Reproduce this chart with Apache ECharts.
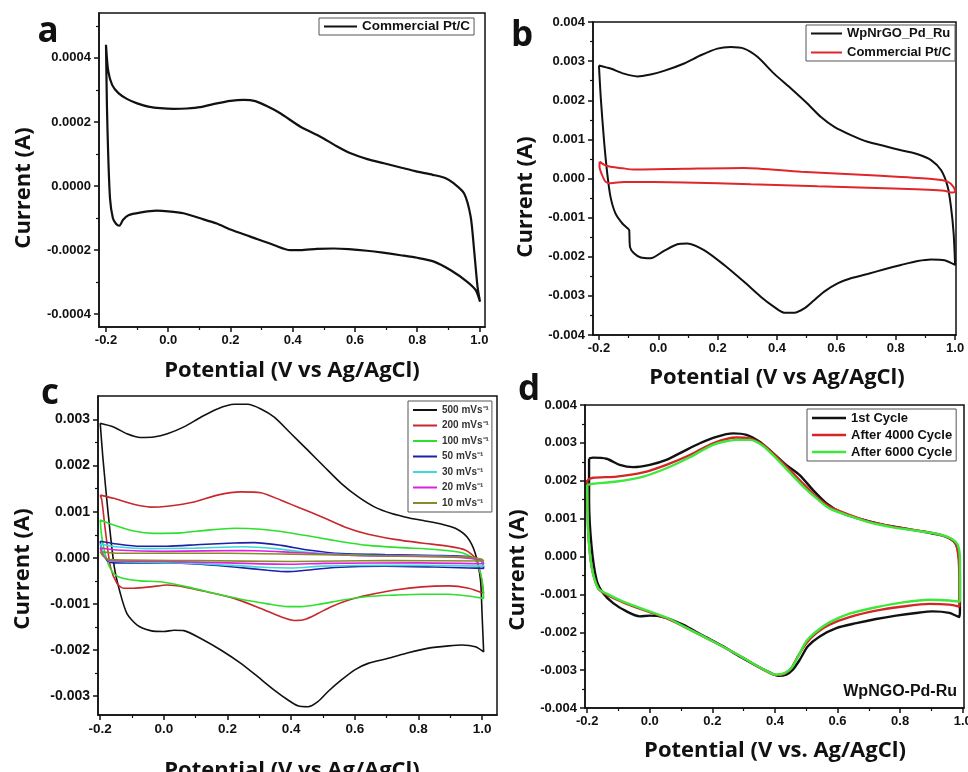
<!DOCTYPE html>
<html><head><meta charset="utf-8">
<script src="https://cdn.jsdelivr.net/npm/echarts@6/dist/echarts.min.js"></script>
<style>html,body{margin:0;padding:0;background:#fff}#c{width:968px;height:772px}</style>
</head><body><div id="c"></div>
<script>
// ---------------- tick labels ----------------
const xTicks = [-0.2, 0, 0.2, 0.4, 0.6, 0.8, 1.0];
const xMinorTicks = [-0.1, 0.1, 0.3, 0.5, 0.7, 0.9];
const aYTicks = [-0.0004, -0.0002, 0, 0.0002, 0.0004];
const aYMinorTicks = [-0.0003, -0.0001, 0.0001, 0.0003, 0.0005];
const bYTicks = [-0.004, -0.003, -0.002, -0.001, 0, 0.001, 0.002, 0.003, 0.004];
const bYMinorTicks = [-0.0035, -0.0025, -0.0015, -0.0005, 0.0005, 0.0015, 0.0025, 0.0035];
const cYTicks = [-0.003, -0.002, -0.001, 0, 0.001, 0.002, 0.003];
const cYMinorTicks = [-0.0025, -0.0015, -0.0005, 0.0005, 0.0015, 0.0025];
const dYTicks = [-0.004, -0.003, -0.002, -0.001, 0, 0.001, 0.002, 0.003, 0.004];
const dYMinorTicks = [-0.0035, -0.0025, -0.0015, -0.0005, 0.0005, 0.0015, 0.0025, 0.0035];

// ---------------- series names ----------------
const aNames = ['Commercial Pt/C'];
const bNames = ['WpNrGO_Pd_Ru', 'Commercial Pt/C'];
const cNames = ['500 mVs\u207B\u00B9', '200 mVs\u207B\u00B9', '100 mVs\u207B\u00B9', '50 mVs\u207B\u00B9', '30 mVs\u207B\u00B9', '20 mVs\u207B\u00B9', '10 mVs\u207B\u00B9'];
const dNames = ['1st Cycle', 'After 4000 Cycle', 'After 6000 Cycle'];

// ---------------- data: [potential V, current A] ----------------
const aPtC = [
[-0.2,0.000441],[-0.193,0.00036],[-0.18,0.000315],[-0.16,0.00029],[-0.133,0.000272],[-0.1,0.000258],[-0.06,0.000247],[-0.026,0.000243],[0.017,0.000241],[0.06,0.000242],[0.103,0.000246],[0.156,0.000258],[0.2,0.000266],[0.242,0.000269],[0.28,0.000265],[0.32,0.000248],[0.36,0.000227],[0.425,0.000185],[0.489,0.000154],[0.54,0.000125],[0.586,0.000102],[0.64,0.000084],[0.693,0.000071],[0.75,0.000057],[0.8,0.000045],[0.85,0.000035],[0.89,0.000025],[0.918,0.000008],[0.951,-0.000023],[0.972,-0.000096],[0.983,-0.0002],[0.994,-0.000315],[1.002,-0.000361],
[0.988,-0.000325],[0.961,-0.000299],[0.908,-0.000263],[0.854,-0.000236],[0.8,-0.000224],[0.747,-0.000216],[0.69,-0.000208],[0.639,-0.000202],[0.58,-0.000197],[0.532,-0.000195],[0.478,-0.000196],[0.425,-0.0002],[0.392,-0.0002],[0.339,-0.000184],[0.264,-0.000158],[0.2,-0.000136],[0.156,-0.000117],[0.1,-0.0001],[0.049,-0.000085],[0.0,-0.000079],[-0.037,-0.000077],[-0.091,-0.000083],[-0.128,-0.000091],[-0.145,-0.000105],[-0.157,-0.000124],[-0.168,-0.000118],[-0.178,-0.0001],[-0.187,-0.00004],[-0.193,0.0001],[-0.197,0.00025],[-0.2,0.000441]
];
const bWp = [
[-0.2,0.00289],[-0.161,0.00281],[-0.116,0.00268],[-0.071,0.00261],[-0.026,0.00266],[0.019,0.00275],[0.087,0.00294],[0.143,0.00315],[0.199,0.00332],[0.244,0.00336],[0.289,0.00332],[0.334,0.00311],[0.39,0.00268],[0.447,0.0023],[0.503,0.00191],[0.548,0.00157],[0.593,0.00132],[0.649,0.00111],[0.705,0.00094],[0.762,0.00083],[0.818,0.00072],[0.874,0.00062],[0.919,0.00047],[0.953,0.00021],[0.975,-0.00021],[0.986,-0.00072],[0.995,-0.0014],[1.0,-0.00221],
[0.964,-0.00209],[0.919,-0.00207],[0.874,-0.00211],[0.818,-0.00221],[0.762,-0.00232],[0.705,-0.00244],[0.649,-0.00255],[0.604,-0.00268],[0.559,-0.00289],[0.525,-0.00311],[0.492,-0.00332],[0.458,-0.00343],[0.424,-0.00343],[0.39,-0.00328],[0.345,-0.00302],[0.289,-0.00264],[0.222,-0.00221],[0.154,-0.00183],[0.098,-0.00166],[0.064,-0.00168],[0.019,-0.00185],[-0.026,-0.00204],[-0.059,-0.00202],[-0.082,-0.00191],[-0.095,-0.00176],[-0.098,-0.00132],[-0.102,-0.00128],[-0.121,-0.00115],[-0.144,-0.0009],[-0.161,-0.00047],[-0.172,0.00013],[-0.183,0.00098],[-0.194,0.00208],[-0.2,0.00289]
];
const bPtC = [
[-0.198,0.00043],[-0.18,0.00034],[-0.161,0.0003],[-0.12,0.00026],[-0.082,0.00023],[0.087,0.00025],[0.289,0.00027],[0.48,0.00017],[0.649,0.00011],[0.818,0.00004],[0.93,-0.00002],[0.975,-0.00008],[0.995,-0.00022],[1.0,-0.00034],[0.985,-0.00036],[0.964,-0.00031],[0.818,-0.00026],[0.537,-0.0002],[0.312,-0.00015],[0.087,-0.0001],[-0.116,-0.00009],[-0.161,-0.00012],[-0.178,-0.00008],[-0.19,0.0001],[-0.198,0.0003],[-0.198,0.00043]
];
const c500 = [
[-0.2,0.00292],[-0.158,0.00284],[-0.116,0.00269],[-0.074,0.00261],[-0.032,0.00262],[0.011,0.00269],[0.063,0.00284],[0.116,0.00305],[0.168,0.00323],[0.221,0.00333],[0.263,0.00333],[0.305,0.00323],[0.347,0.00305],[0.4,0.00269],[0.453,0.00233],[0.505,0.00197],[0.558,0.00161],[0.611,0.00132],[0.663,0.0011],[0.716,0.00096],[0.768,0.00087],[0.821,0.0008],[0.874,0.00073],[0.916,0.00064],[0.953,0.00045],[0.979,0.00009],[0.995,-0.00048],[1.0,-0.00121],[1.005,-0.00204],
[0.979,-0.00193],[0.937,-0.00189],[0.895,-0.00191],[0.832,-0.00196],[0.768,-0.00206],[0.705,-0.00218],[0.642,-0.00229],[0.6,-0.00243],[0.558,-0.00265],[0.516,-0.0029],[0.484,-0.00312],[0.453,-0.00323],[0.421,-0.00321],[0.389,-0.00308],[0.347,-0.00287],[0.295,-0.00258],[0.242,-0.00229],[0.179,-0.002],[0.116,-0.00175],[0.063,-0.00158],[0.032,-0.00157],[0.0,-0.0016],[-0.042,-0.00158],[-0.084,-0.00146],[-0.116,-0.00121],[-0.137,-0.00077],[-0.156,-0.00019],[-0.175,0.00096],[-0.192,0.0022],[-0.2,0.00292]
];
const c200 = [
[-0.2,0.00136],[-0.158,0.00129],[-0.095,0.00116],[-0.042,0.0011],[0.011,0.00112],[0.095,0.00121],[0.168,0.00136],[0.242,0.00143],[0.305,0.00141],[0.368,0.00125],[0.432,0.00107],[0.495,0.00089],[0.568,0.00067],[0.642,0.00051],[0.726,0.0004],[0.811,0.00032],[0.895,0.00025],[0.947,0.00017],[0.979,-0.00001],[0.995,-0.00034],[1.005,-0.00077],
[0.958,-0.00066],[0.895,-0.00061],[0.811,-0.00063],[0.726,-0.0007],[0.642,-0.00081],[0.579,-0.00092],[0.526,-0.00106],[0.484,-0.00121],[0.442,-0.00134],[0.411,-0.00136],[0.368,-0.00128],[0.305,-0.0011],[0.221,-0.00088],[0.137,-0.00074],[0.063,-0.00063],[0.011,-0.00059],[-0.042,-0.00063],[-0.095,-0.00066],[-0.126,-0.00066],[-0.147,-0.00056],[-0.168,-0.00019],[-0.184,0.0006],[-0.195,0.00125],[-0.2,0.00136]
];
const c100 = [
[-0.2,0.00082],[-0.158,0.00071],[-0.095,0.00058],[-0.032,0.00053],[0.053,0.00054],[0.137,0.0006],[0.221,0.00064],[0.305,0.00062],[0.389,0.00055],[0.474,0.00045],[0.558,0.00035],[0.642,0.00027],[0.747,0.00022],[0.853,0.00018],[0.937,0.00011],[0.979,-0.00005],[1.0,-0.00048],[1.005,-0.00088],
[0.968,-0.00084],[0.895,-0.00079],[0.811,-0.00079],[0.726,-0.00081],[0.642,-0.00084],[0.558,-0.00092],[0.495,-0.001],[0.432,-0.00106],[0.389,-0.00106],[0.326,-0.001],[0.242,-0.0009],[0.158,-0.00077],[0.074,-0.00063],[-0.011,-0.00052],[-0.074,-0.0005],[-0.126,-0.00045],[-0.158,-0.00034],[-0.179,-0.00005],[-0.195,0.00045],[-0.2,0.00082]
];
const c50 = [
[-0.2,0.00036],[-0.147,0.0003],[-0.074,0.00025],[0.011,0.00025],[0.116,0.00029],[0.221,0.00032],[0.284,0.00033],[0.368,0.00027],[0.453,0.00017],[0.558,0.00009],[0.695,0.00007],[0.853,0.00005],[0.958,0.00002],[1.0,-0.00009],[1.005,-0.00023],
[0.958,-0.00022],[0.853,-0.0002],[0.695,-0.00018],[0.537,-0.00021],[0.432,-0.00028],[0.389,-0.0003],[0.326,-0.00027],[0.221,-0.0002],[0.116,-0.00014],[0.011,-0.00011],[-0.095,-0.00011],[-0.158,-0.00011],[-0.179,-0.00005],[-0.195,0.00017],[-0.2,0.00036]
];
const c30 = [
[-0.2,0.0003],[-0.15,0.00024],[-0.05,0.0002],[0.1,0.00021],[0.25,0.00024],[0.35,0.0002],[0.45,0.00012],[0.6,0.00006],[0.8,0.00004],[0.95,0.00001],[1.0,-0.00008],[1.005,-0.00018],
[0.9,-0.00017],[0.7,-0.00016],[0.5,-0.00018],[0.4,-0.00022],[0.3,-0.0002],[0.1,-0.00012],[-0.1,-0.00009],[-0.17,-0.00007],[-0.19,0.0001],[-0.2,0.0003]
];
const c20 = [
[-0.2,0.00022],[-0.15,0.00017],[0.0,0.00014],[0.25,0.00016],[0.4,0.00012],[0.6,0.00005],[0.9,0.00002],[1.0,-0.00005],[1.005,-0.00013],
[0.8,-0.00011],[0.5,-0.00012],[0.4,-0.00014],[0.2,-0.00011],[0.0,-0.00008],[-0.17,-0.00006],[-0.19,0.00005],[-0.2,0.00022]
];
const c10 = [
[-0.2,0.00013],[-0.15,0.0001],[0.2,0.0001],[0.4,0.00008],[0.7,0.00004],[0.95,0.00002],[1.0,-0.00003],[1.005,-0.00007],
[0.7,-0.00006],[0.4,-0.00008],[0.1,-0.00006],[-0.17,-0.00004],[-0.19,0.00003],[-0.2,0.00013]
];
const d1st = [
[-0.194,0.00259],[-0.181,0.00261],[-0.138,0.00258],[-0.096,0.00242],[-0.053,0.00236],[0.0,0.00242],[0.053,0.00255],[0.106,0.00277],[0.16,0.00299],[0.213,0.00316],[0.266,0.00325],[0.309,0.00321],[0.351,0.00303],[0.394,0.00273],[0.436,0.00242],[0.479,0.00215],[0.521,0.00176],[0.564,0.00141],[0.617,0.00114],[0.681,0.00097],[0.745,0.00084],[0.809,0.00075],[0.872,0.00066],[0.926,0.00057],[0.957,0.00048],[0.979,0.00031],[0.989,-0.00009],[0.991,-0.00062],[0.991,-0.00141],[0.989,-0.0016],
[0.957,-0.00149],[0.904,-0.00145],[0.851,-0.00149],[0.787,-0.00156],[0.723,-0.00165],[0.66,-0.00176],[0.596,-0.00189],[0.543,-0.00211],[0.505,-0.00237],[0.479,-0.00273],[0.457,-0.00299],[0.436,-0.00312],[0.41,-0.00315],[0.383,-0.00306],[0.34,-0.00288],[0.287,-0.00264],[0.234,-0.00237],[0.17,-0.00209],[0.106,-0.0018],[0.043,-0.0016],[0.0,-0.00156],[-0.032,-0.00158],[-0.074,-0.00145],[-0.117,-0.00123],[-0.149,-0.00097],[-0.17,-0.00062],[-0.186,0.00026],[-0.194,0.00149],[-0.194,0.00259]
];
const d4000 = [
[-0.2,0.00202],[-0.181,0.00208],[-0.106,0.00211],[-0.021,0.00222],[0.053,0.00242],[0.128,0.00268],[0.202,0.00299],[0.277,0.00314],[0.319,0.00312],[0.362,0.00295],[0.404,0.00264],[0.447,0.00229],[0.489,0.00193],[0.532,0.00158],[0.574,0.00132],[0.638,0.0011],[0.702,0.00092],[0.777,0.00079],[0.851,0.00069],[0.915,0.0006],[0.957,0.00048],[0.979,0.00031],[0.987,-0.00009],[0.989,-0.0007],[0.989,-0.00132],
[0.957,-0.00127],[0.894,-0.00125],[0.809,-0.00132],[0.723,-0.00143],[0.638,-0.0016],[0.574,-0.0018],[0.532,-0.00202],[0.5,-0.00229],[0.473,-0.00264],[0.452,-0.00295],[0.431,-0.00309],[0.404,-0.00313],[0.372,-0.00303],[0.287,-0.00262],[0.213,-0.00229],[0.128,-0.00193],[0.053,-0.00163],[-0.021,-0.00141],[-0.085,-0.00121],[-0.138,-0.00101],[-0.165,-0.00084],[-0.186,-0.00026],[-0.197,0.0007],[-0.2,0.00202]
];
const d6000 = [
[-0.2,0.00189],[-0.181,0.00192],[-0.106,0.00198],[-0.021,0.00211],[0.053,0.00233],[0.128,0.00262],[0.202,0.00295],[0.277,0.00308],[0.319,0.00308],[0.362,0.00292],[0.404,0.00259],[0.447,0.00222],[0.489,0.00186],[0.532,0.00154],[0.574,0.00127],[0.638,0.00107],[0.702,0.0009],[0.777,0.00077],[0.851,0.00068],[0.915,0.0006],[0.962,0.00048],[0.984,0.00031],[0.991,-0.00009],[0.991,-0.0007],[0.991,-0.00119],
[0.957,-0.00116],[0.894,-0.00114],[0.809,-0.00121],[0.723,-0.00134],[0.638,-0.00151],[0.574,-0.00174],[0.532,-0.00198],[0.5,-0.00224],[0.477,-0.00259],[0.455,-0.00292],[0.431,-0.00308],[0.404,-0.00312],[0.372,-0.00302],[0.287,-0.00262],[0.213,-0.00229],[0.128,-0.00193],[0.053,-0.00161],[-0.021,-0.00139],[-0.085,-0.00119],[-0.138,-0.00098],[-0.165,-0.00084],[-0.186,-0.00026],[-0.197,0.0007],[-0.2,0.00189]
];

// ---------------- layout & styles ----------------
const TICKFONT = 'Liberation Sans';
const TITLEFONT = 'Open Sans';
const panels = [
  {grid:{left:99, top:13, width:386, height:314}, x:[-0.2225,1.018], y:[-0.00044,0.00054], yT:aYTicks, yM:aYMinorTicks, dig:4, fs:13, xfs:13},
  {grid:{left:593, top:22, width:363, height:313}, x:[-0.22,1.003], y:[-0.004,0.004], yT:bYTicks, yM:bYMinorTicks, dig:3, fs:13, xfs:13},
  {grid:{left:98, top:396, width:399, height:319}, x:[-0.207,1.047], y:[-0.00341,0.00351], yT:cYTicks, yM:cYMinorTicks, dig:3, fs:14, xfs:13.5},
  {grid:{left:585, top:405, width:379, height:303}, x:[-0.207,1.004], y:[-0.004,0.004], yT:dYTicks, yM:dYMinorTicks, dig:3, fs:13, xfs:13}
];

const grids = [], xAxes = [], yAxes = [];
panels.forEach((p, i) => {
  grids.push(Object.assign({show:true, borderColor:'#111', borderWidth:1.5, backgroundColor:'transparent', containLabel:false, outerBoundsMode:'none'}, p.grid));
  const lab = (fs, fmt, vals, margin) => ({show:true, customValues:vals, formatter:fmt, fontFamily:TICKFONT, fontWeight:'bold', fontSize:fs, color:'#111', margin:margin, hideOverlap:false});
  xAxes.push({gridIndex:i, type:'value', position:'bottom', min:p.x[0], max:p.x[1],
    axisLine:{show:true, onZero:false, lineStyle:{color:'#111', width:1.5}},
    axisTick:{show:true, inside:false, length:5, customValues:xTicks, lineStyle:{color:'#111', width:1.5}},
    axisLabel:lab(p.xfs, v => (+v).toFixed(1), xTicks, 7), splitLine:{show:false}});
  xAxes.push({gridIndex:i, type:'value', position:'bottom', min:p.x[0], max:p.x[1],
    axisLine:{show:false, onZero:false}, axisLabel:{show:false}, splitLine:{show:false},
    axisTick:{show:true, inside:false, length:3, customValues:xMinorTicks, lineStyle:{color:'#111', width:1.2}}});
  yAxes.push({gridIndex:i, type:'value', position:'left', min:p.y[0], max:p.y[1],
    axisLine:{show:true, onZero:false, lineStyle:{color:'#111', width:1.5}},
    axisTick:{show:true, inside:false, length:5, customValues:p.yT, lineStyle:{color:'#111', width:1.5}},
    axisLabel:lab(p.fs, v => (+v).toFixed(p.dig), p.yT, 8), splitLine:{show:false}});
  yAxes.push({gridIndex:i, type:'value', position:'left', min:p.y[0], max:p.y[1],
    axisLine:{show:false, onZero:false}, axisLabel:{show:false}, splitLine:{show:false},
    axisTick:{show:true, inside:false, length:3, customValues:p.yM, lineStyle:{color:'#111', width:1.2}}});
});

function line(name, panel, data, color, width) {
  return {type:'line', name:name, xAxisIndex:panel*2, yAxisIndex:panel*2, data:data,
    symbol:'none', showSymbol:false, smooth:0.25, clip:true,
    lineStyle:{color:color, width:width}, itemStyle:{color:color}, emphasis:{disabled:true}};
}

const cColors = ['#111111', '#c8282c', '#2ee02e', '#1f1fa8', '#3ddada', '#e020e0', '#8a8a2a'];
const cData = [c500, c200, c100, c50, c30, c20, c10];
const dColors = ['#111111', '#d42626', '#3de83d'];
const dData = [d1st, d4000, d6000];

const series = [
  line(aNames[0], 0, aPtC, '#111111', 2.2),
  line(bNames[0], 1, bWp, '#111111', 2),
  line(bNames[1], 1, bPtC, '#e0262b', 2),
  ...cNames.map((n, k) => line(n, 2, cData[k], cColors[k], 1.6)),
  ...dNames.map((n, k) => line(n, 3, dData[k], dColors[k], 2.4))
];

const legBase = (o) => Object.assign({show:true, orient:'vertical', selectedMode:false, icon:'rect',
  borderColor:'#555', borderWidth:1, backgroundColor:'#fff',
  textStyle:{fontFamily:TICKFONT, fontWeight:'bold', color:'#111'}}, o);

const legends = [
  legBase({left:319, top:18, padding:[1,4,1,5], itemWidth:33, itemHeight:2, itemGap:4,
    textStyle:{fontFamily:TICKFONT, fontWeight:'bold', color:'#111', fontSize:13.5, lineHeight:15},
    data:[{name:aNames[0], itemStyle:{color:'#111'}}]}),
  legBase({left:806, top:25, padding:[1,4,1,5], itemWidth:31, itemHeight:2, itemGap:4,
    textStyle:{fontFamily:TICKFONT, fontWeight:'bold', color:'#111', fontSize:13, lineHeight:15},
    data:[{name:bNames[0], itemStyle:{color:'#111'}}, {name:bNames[1], itemStyle:{color:'#e0262b'}}]}),
  legBase({left:408, top:401, padding:[3,3,3,5], itemWidth:24, itemHeight:2, itemGap:3.5,
    textStyle:{fontFamily:TICKFONT, fontWeight:'bold', color:'#333', fontSize:10, lineHeight:12},
    data:cNames.map((n, k) => ({name:n, itemStyle:{color:cColors[k]}}))}),
  legBase({left:807, top:409, padding:[2,4,2,5], itemWidth:34, itemHeight:2.5, itemGap:3,
    textStyle:{fontFamily:TICKFONT, fontWeight:'bold', color:'#111', fontSize:13, lineHeight:14},
    data:dNames.map((n, k) => ({name:n, itemStyle:{color:dColors[k]}}))})
];

function txt(text, x, y, font, rot, align) {
  return {type:'text', x:x, y:y, rotation:rot || 0, z:100,
    style:{text:text, font:font, fill:'#111', align:align || 'center', verticalAlign:'middle',
      textAlign:align || 'center', textVerticalAlign:'middle'}};
}
const TF = 'bold 22px "' + TITLEFONT + '"';
const LF = 'bold 35px "' + TITLEFONT + '"';
const graphics = [
  txt('a', 48, 32, LF), txt('b', 522, 36, LF), txt('c', 50, 394, LF), txt('d', 529, 390, LF),
  txt('Potential (V vs Ag/AgCl)', 292, 371, TF),
  txt('Potential (V vs Ag/AgCl)', 777, 378, TF),
  txt('Potential (V vs Ag/AgCl)', 292, 771, TF),
  txt('Potential (V vs. Ag/AgCl)', 775, 751, TF),
  txt('Current (A)', 24, 188, TF, Math.PI/2),
  txt('Current (A)', 526, 197, TF, Math.PI/2),
  txt('Current (A)', 23, 569, TF, Math.PI/2),
  txt('Current (A)', 518, 570, TF, Math.PI/2),
  txt('WpNGO-Pd-Ru', 957, 692, 'bold 16px "' + TICKFONT + '"', 0, 'right')
];

const chart = echarts.init(document.getElementById('c'), null, {renderer:'canvas'});
chart.setOption({
  animation:false, backgroundColor:'#fff',
  grid:grids, xAxis:xAxes, yAxis:yAxes, legend:legends, series:series,
  graphic:{elements:graphics}, tooltip:{show:false}
});
</script></body></html>
